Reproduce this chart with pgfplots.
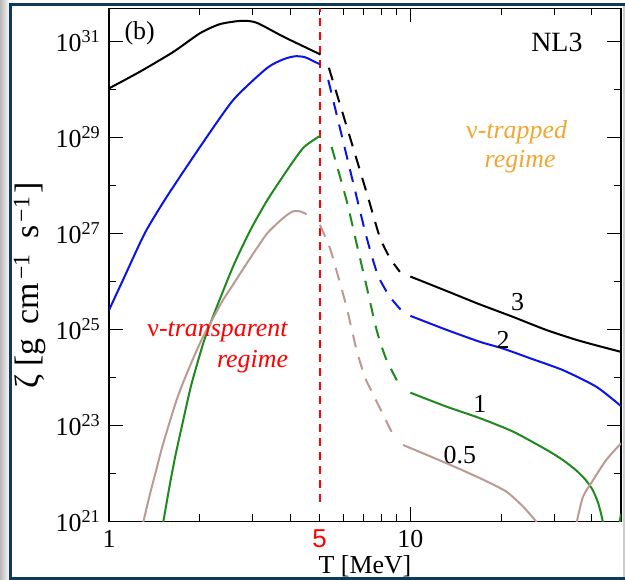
\documentclass[border=0pt]{standalone}
\usepackage{fontspec}
\setmainfont{Liberation Serif}
\setsansfont{Liberation Sans}
\usepackage{pgfplots}
\pgfplotsset{compat=1.18}
\definecolor{navy}{HTML}{0E3A5C}
\definecolor{cgreen}{HTML}{1E8A1E}
\definecolor{cbrown}{HTML}{BC9A94}
\definecolor{corange}{HTML}{F2A630}
\definecolor{cblue}{HTML}{0A14E6}
\begin{document}
\fontsize{26}{30}\selectfont
\begin{tikzpicture}
\useasboundingbox (0bp,0bp) rectangle (625bp,580bp);
\shade[left color=gray!55, right color=white] (0bp,0bp) rectangle (10bp,580bp);
\draw[gray!40, line width=1.5bp] (624bp,0bp) -- (624bp,576bp);
\draw[navy, line width=3bp] (10.5bp,0bp) -- (10.5bp,575.5bp) -- (625bp,575.5bp);
\draw[navy, line width=3bp] (10.5bp,1.5bp) -- (625bp,1.5bp);
\begin{axis}[at={(109bp,58.7bp)}, anchor=south west, scale only axis,
  width=512bp, height=513bp,
  xmode=log, ymode=log, xmin=1, xmax=50, ymin=1e21, ymax=4.9e31,
  axis line style={line width=1.3bp},
  every tick/.style={black, line width=1.1bp},
  major tick length=14bp, minor tick length=7bp,
  tick align=inside,
  xtick={1,10}, xticklabels={1,10},
  minor xtick={2,3,4,6,7,8,9,20,30,40},
  extra x ticks={5}, extra x tick labels={\textcolor{red}{\sffamily 5}},
  extra x tick style={major tick length=7bp},
  ytick={1e21,1e23,1e25,1e27,1e29,1e31},
  yticklabels={10\textsuperscript{21},10\textsuperscript{23},10\textsuperscript{25},10\textsuperscript{27},10\textsuperscript{29},10\textsuperscript{31}},
  minor ytick={1e22,1e24,1e26,1e28,1e30},
  tick label style={font=\fontsize{26}{30}\selectfont},
  label style={font=\fontsize{26}{30}\selectfont},
  xlabel={T [MeV]},
  ylabel={ζ [g\hspace{0.15em} cm\hspace{0.1em}\textsuperscript{−1}\hspace{0.2em} s\hspace{0.1em}\textsuperscript{−1}\hspace{0.1em}]},
  xlabel style={at={(axis description cs:0.5,-0.088)}, anchor=center},
  ylabel style={at={(axis description cs:-0.155,0.46)}, anchor=center, font=\fontsize{34}{36}\selectfont},
  every axis plot/.append style={line width=2bp},
  ]
% red divider
\addplot[red, line width=2bp, dash pattern=on 8bp off 6bp] coordinates {(5,2.57e21) (5,4.9e31)};
% black (3)
\addplot[black, smooth, tension=0.4] coordinates {(1.0,1.05e30) (1.267,2.34e30) (1.634,6.03e30) (2.004,1.48e31) (2.334,2.29e31) (2.755,2.69e31) (3.09,2.45e31) (3.785,1.26e31) (4.945,5.62e30) (5.0,5.4e30)};
\addplot[black, smooth, tension=0.4, dash pattern=on 13bp off 10bp] coordinates {(5.365,2.82e30) (5.84,4.90e29) (6.30,1.02e29) (7.23,5.75e27) (7.92,8.32e26) (8.55,3.09e26) (9.23,1.58e26)};
\addplot[black, smooth, tension=0.4] coordinates {(10.0,1.26e26) (13.18,6.31e25) (17.0,3.31e25) (21.9,1.82e25) (28.3,9.66e24) (36.5,5.75e24) (50,3.39e24)};
% blue (2)
\addplot[cblue, smooth, tension=0.4] coordinates {(1.0,2.51e25) (1.113,1.07e26) (1.316,1.02e27) (1.554,5.75e27) (2.004,6.31e28) (2.585,6.03e29) (3.336,2.75e30) (3.785,4.22e30) (4.14,4.90e30) (4.47,4.68e30) (4.945,3.47e30) (5.0,3.4e30)};
\addplot[cblue, smooth, tension=0.4, dash pattern=on 13bp off 10bp] coordinates {(5.34,1.58e30) (5.84,1.55e29) (6.55,7.94e27) (7.17,7.94e26) (7.80,1.35e26) (8.55,4.79e25) (9.44,2.29e25)};
\addplot[cblue, smooth, tension=0.4] coordinates {(10.0,1.91e25) (13.18,9.77e24) (17.0,5.50e24) (20.3,3.98e24) (24.9,2.51e24) (32.1,1.41e24) (41.5,6.31e23) (50,2.51e23)};
% green (1)
\addplot[cgreen, smooth, tension=0.4] coordinates {(1.50,8e20) (1.515,1.0e21) (1.586,5.13e21) (1.66,2.29e22) (1.764,1.29e23) (1.875,6.92e23) (2.055,5.13e24) (2.218,1.91e25) (2.585,2.09e26) (2.936,1.12e27) (3.336,4.68e27) (3.885,2.0e28) (4.41,6.03e28) (4.945,1.02e29) (5.0,1.05e29)};
\addplot[cgreen, smooth, tension=0.4, dash pattern=on 13bp off 10bp] coordinates {(5.48,6.31e28) (6.14,4.90e27) (6.63,6.17e26) (7.16,7.76e25) (7.73,9.66e24) (8.29,2.51e24) (9.09,7.94e23)};
\addplot[cgreen, smooth, tension=0.4] coordinates {(10.0,4.79e23) (13.18,2.45e23) (17.0,1.41e23) (21.9,7.41e22) (28.3,3.09e22) (32.0,1.91e22) (35.4,1.17e22) (38.2,7.24e21) (40.3,4.47e21) (41.9,2.51e21) (42.8,1.55e21) (43.5,1.0e21) (43.8,7e20)};
\addplot[cgreen] coordinates {(49.2,8e20) (50,1.4e21)};
% brown (0.5)
\addplot[cbrown, smooth, tension=0.4] coordinates {(1.29,8e20) (1.301,1.0e21) (1.368,3.72e21) (1.432,1.12e22) (1.499,3.39e22) (1.586,1.12e23) (1.677,3.39e23) (1.764,7.94e23) (1.904,2.51e24) (2.050,6.92e24) (2.218,1.74e25) (2.388,4.07e25) (2.585,8.71e25) (2.936,2.99e26) (3.336,9.66e26) (3.691,1.82e27) (3.894,2.40e27) (4.087,2.88e27) (4.30,2.88e27) (4.525,2.51e27)};
\addplot[cbrown, smooth, tension=0.4, dash pattern=on 13bp off 10bp] coordinates {(5.01,1.51e27) (5.41,4.90e26) (5.76,1.26e26) (6.14,2.95e25) (6.63,3.72e24) (7.07,1.0e24) (7.38,5.62e23) (7.72,3.16e23) (8.72,6.76e22)};
\addplot[cbrown, smooth, tension=0.4] coordinates {(9.46,3.89e22) (13.18,1.62e22) (17.0,7.94e21) (20.8,4.17e21) (23.7,2.0e21) (26.1,1.0e21) (26.5,8e20)};
\addplot[cbrown, smooth, tension=0.4] coordinates {(35.5,8e20) (35.7,1.0e21) (37.4,3.24e21) (40.4,7.24e21) (44.7,1.91e22) (50,4.22e22)};
% curve labels
\node at (axis cs:22.7,3.7e25) {3};
\node at (axis cs:20.3,6.0e24) {2};
\node at (axis cs:17.0,2.75e23) {1};
\node at (axis cs:14.6,2.4e22) {0.5};
% annotations
\node at (axis description cs:0.06,0.952) {(b)};
\node[anchor=east] at (axis description cs:0.942,0.934) {\fontsize{28}{30}\selectfont NL3};
\node[text=corange] at (axis description cs:0.796,0.759) {ν\textit{-trapped}};
\node[text=corange] at (axis description cs:0.803,0.701) {\textit{regime}};
\node[text=red, anchor=east] at (axis description cs:0.367,0.370) {ν\textit{-transparent}};
\node[text=red, anchor=east] at (axis description cs:0.367,0.311) {\textit{regime}};
\end{axis}
\end{tikzpicture}
\end{document}
